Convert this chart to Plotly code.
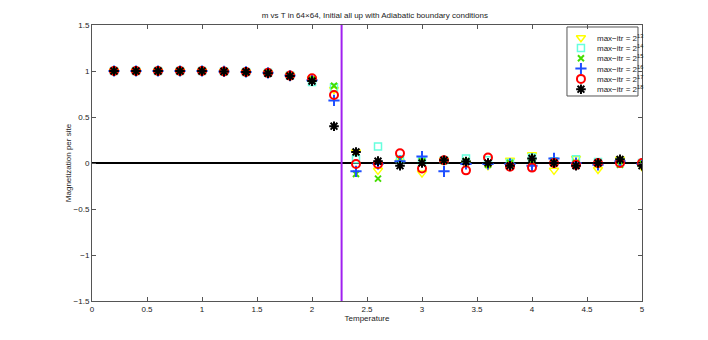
import plotly.graph_objects as go

# temperatures and magnetization per site for each max iteration count
temps = [0.2, 0.4, 0.6, 0.8, 1.0, 1.2, 1.4, 1.6, 1.8, 2.0, 2.2, 2.4, 2.6,
         2.8, 3.0, 3.2, 3.4, 3.6, 3.8, 4.0, 4.2, 4.4, 4.6, 4.8, 5.0]

m_2_13 = [1.0, 1.0, 1.0, 1.0, 1.0, 0.995, 0.99, 0.98, 0.955, 0.91, 0.80,
          0.12, -0.08, 0.01, -0.11, 0.03, 0.0, -0.03, 0.03, 0.09, -0.08,
          0.05, -0.07, 0.04, -0.04]
m_2_14 = [1.0, 1.0, 1.0, 1.0, 1.0, 0.995, 0.99, 0.98, 0.95, 0.88, 0.82,
          0.04, 0.18, 0.04, 0.02, 0.03, 0.05, 0.03, 0.0, 0.06, 0.02,
          0.04, 0.01, 0.01, 0.0]
m_2_15 = [1.0, 1.0, 1.0, 1.0, 1.0, 0.995, 0.99, 0.98, 0.95, 0.91, 0.84,
          -0.12, -0.17, 0.04, 0.02, 0.02, 0.02, -0.02, 0.0, 0.01, 0.02,
          0.0, 0.0, -0.02, 0.0]
m_2_16 = [1.0, 1.0, 1.0, 1.0, 1.0, 0.995, 0.99, 0.98, 0.95, 0.90, 0.68,
          -0.09, -0.01, 0.02, 0.07, -0.09, -0.01, -0.01, -0.01, -0.03, 0.05,
          0.0, -0.02, 0.02, -0.01]
m_2_17 = [1.0, 1.0, 1.0, 1.0, 1.0, 0.995, 0.99, 0.98, 0.95, 0.92, 0.74,
          -0.01, -0.01, 0.105, -0.06, 0.03, -0.08, 0.06, -0.04, -0.05, 0.0,
          -0.02, 0.0, 0.0, 0.0]
m_2_18 = [1.0, 1.0, 1.0, 1.0, 1.0, 0.995, 0.99, 0.975, 0.945, 0.89, 0.40,
          0.12, 0.02, -0.03, 0.0, 0.03, 0.015, 0.0, -0.03, 0.05, 0.0,
          -0.03, 0.0, 0.04, -0.03]

exponents = [13, 14, 15, 16, 17, 18]
t_critical = 2.269

# (values, symbol, colour, size, line width)
series = [
    (m_2_13, "triangle-down-open", "#ffff00", 8, 1.5),
    (m_2_14, "square-open", "#66ffdd", 7, 1.5),
    (m_2_15, "x-thin-open", "#44dd00", 6, 2),
    (m_2_16, "cross-thin-open", "#1f4fff", 8, 2),
    (m_2_17, "circle-open", "#ff0000", 8, 2),
    (m_2_18, "asterisk-open", "#000000", 8, 2),
]

fig = go.Figure()

# zero line and critical temperature go underneath the markers
fig.add_hline(y=0, line=dict(color="black", width=2), layer="below")
fig.add_vline(x=t_critical, line=dict(color="#a020f0", width=2), layer="below")

for (vals, sym, col, size, lw), e in zip(series, exponents):
    fig.add_trace(go.Scatter(
        x=temps, y=vals, mode="markers", name=f"max\u2212itr = 2^{e}",
        marker=dict(symbol=sym, color=col, size=size,
                    line=dict(color=col, width=lw)),
        showlegend=False,
    ))

# matlab style compact legend box (paper coords on a hidden overlay axis)
leg_x0, leg_x1, leg_top, leg_bot = 0.8636, 0.9927, 0.9928, 0.7428
row_h = 10.3 / 276
first_row = (301 - 37.7) / 276
fig.add_shape(type="rect", xref="paper", yref="paper",
              x0=leg_x0, x1=leg_x1, y0=leg_bot, y1=leg_top,
              line=dict(color="#555555", width=1), fillcolor="white", layer="below")
for i, ((vals, sym, col, size, lw), e) in enumerate(zip(series, exponents)):
    ry = first_row - i * row_h
    fig.add_trace(go.Scatter(
        x=[0.889], y=[ry], mode="markers", xaxis="x2", yaxis="y2",
        marker=dict(symbol=sym, color=col, size=size,
                    line=dict(color=col, width=lw)),
        showlegend=False, hoverinfo="skip", cliponaxis=False,
    ))
    fig.add_annotation(x=0.914, y=ry, xref="paper", yref="paper",
                       text=f"max\u2212itr = 2<sup>{e}</sup>", showarrow=False,
                       xanchor="left", yanchor="middle", font=dict(size=8))

axis_style = dict(
    showline=True, linecolor="#555555", linewidth=1, mirror="ticks",
    ticks="inside", ticklen=4, tickcolor="#555555",
    showgrid=False, zeroline=False,
    tickfont=dict(size=8, color="#222222"),
)

fig.update_layout(
    width=708, height=340,
    margin=dict(l=84, r=74, t=17, b=47),
    paper_bgcolor="white", plot_bgcolor="white",
    font=dict(family="Liberation Sans, Arial, sans-serif", size=8, color="#222222"),
    title=dict(text="m vs T in 64\u00d764, Initial all up with Adiabatic boundary conditions",
               x=0.5182, xanchor="center", y=0.972, yanchor="bottom",
               font=dict(size=8)),
    xaxis=dict(range=[0, 5], tickvals=[0, 0.5, 1, 1.5, 2, 2.5, 3, 3.5, 4, 4.5, 5],
               ticktext=["0", "0.5", "1", "1.5", "2", "2.5", "3", "3.5", "4", "4.5", "5"],
               title=dict(text="Temperature", font=dict(size=8), standoff=0),
               **axis_style),
    yaxis=dict(range=[-1.5, 1.5], tickvals=[-1.5, -1, -0.5, 0, 0.5, 1, 1.5],
               ticktext=["\u22121.5", "\u22121", "\u22120.5", "0", "0.5", "1", "1.5"],
               title=dict(text="Magnetization per site", font=dict(size=8), standoff=0),
               **axis_style),
    xaxis2=dict(range=[0, 1], overlaying="x", visible=False, fixedrange=True),
    yaxis2=dict(range=[0, 1], overlaying="y", visible=False, fixedrange=True),
    showlegend=False,
)

fig.write_html("out.html")
